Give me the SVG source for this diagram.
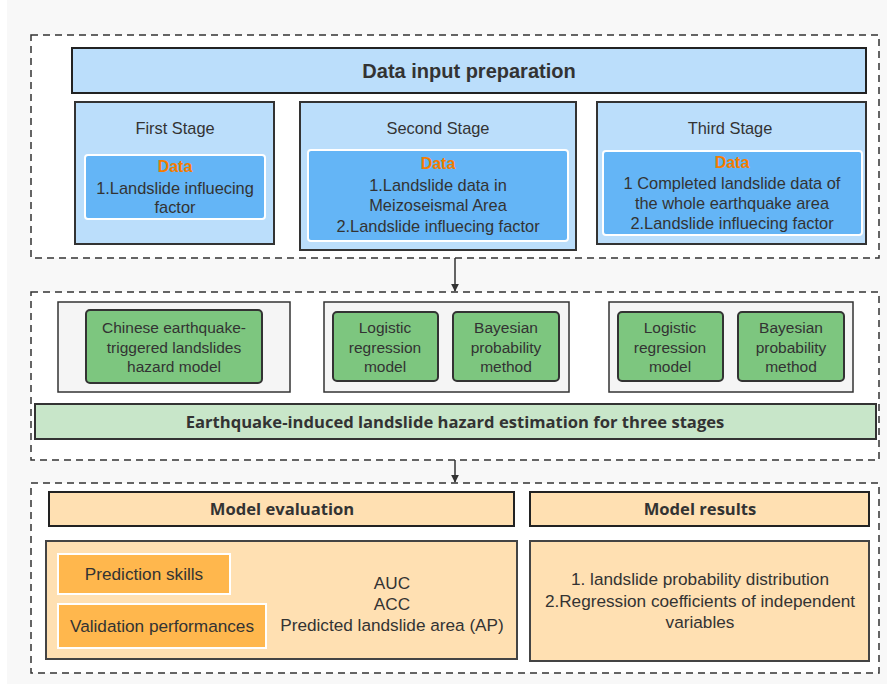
<svg xmlns="http://www.w3.org/2000/svg" width="887" height="688" viewBox="0 0 887 688">
<defs>
<style>
text{font-family:"Liberation Sans",Arial,sans-serif;fill:#333;text-anchor:middle}
.t15{font-size:15.5px}
.t16{font-size:16.4px}
.t17{font-size:17.2px}
.b{font-weight:bold}
.seg{font-family:"Open Sans","Noto Sans",sans-serif;font-weight:bold;font-size:16.6px}
.data{fill:#f57c00;font-weight:bold;font-size:16px}
.dash{fill:#fff;stroke:#333;stroke-width:1.5;stroke-dasharray:7 5}
.hdr{fill:#bbdefb;stroke:#222;stroke-width:2}
.stage{fill:#bbdefb;stroke:#333;stroke-width:2}
.dbox{fill:#64b5f6;stroke:#fff;stroke-width:2}
.gray{fill:#f5f5f5;stroke:#333;stroke-width:1.5}
.green{fill:#7dc67f;stroke:#333;stroke-width:2}
.banner{fill:#c8e6c9;stroke:#333;stroke-width:2}
.ohdr{fill:#ffe0b2;stroke:#222;stroke-width:2}
.obody{fill:#ffe0b2;stroke:#444;stroke-width:2}
.obox{fill:#ffb74d;stroke:#fff;stroke-width:2}
.conn{stroke:#333;stroke-width:1.5;fill:none}
</style>
<marker id="arr" viewBox="0 0 10 10" refX="9" refY="5" markerWidth="8" markerHeight="8" orient="auto" markerUnits="userSpaceOnUse">
<path d="M0,0 L10,5 L0,10 z" fill="#333"/>
</marker>
</defs>
<rect x="0" y="0" width="887" height="688" fill="#fff"/>
<rect x="7" y="0" width="880" height="684" fill="#f8f8f8"/>

<g id="container1">
<rect class="dash" x="31" y="35" width="848" height="223"/>
</g>
<g id="header1">
<rect class="hdr" x="72" y="48" width="794" height="45"/>
<text class="b" x="469" y="78" style="font-size:20px">Data input preparation</text>
</g>
<g id="stage1">
<rect class="stage" x="75" y="102" width="199" height="142"/>
<text class="t16" x="175" y="134">First Stage</text>
<rect class="dbox" x="85" y="155" width="180" height="64" rx="3"/>
<text class="data" x="175" y="172">Data</text>
<text class="t16" x="175" y="194">1.Landslide influecing</text>
<text class="t16" x="175" y="213">factor</text>
</g>
<g id="stage2">
<rect class="stage" x="300" y="102" width="276" height="148"/>
<text class="t16" x="438" y="134">Second Stage</text>
<rect class="dbox" x="308" y="150" width="260" height="91" rx="3"/>
<text class="data" x="438" y="169">Data</text>
<text class="t16" x="438" y="191">1.Landslide data in</text>
<text class="t16" x="438" y="211">Meizoseismal Area</text>
<text class="t16" x="438" y="232">2.Landslide influecing factor</text>
</g>
<g id="stage3">
<rect class="stage" x="597" y="102" width="269" height="142"/>
<text class="t16" x="730" y="134">Third Stage</text>
<rect class="dbox" x="603" y="151" width="259" height="84" rx="3"/>
<text class="data" x="732" y="168">Data</text>
<text class="t16" x="732" y="189">1 Completed landslide data of</text>
<text class="t16" x="732" y="209">the whole earthquake area</text>
<text class="t16" x="732" y="229">2.Landslide influecing factor</text>
</g>

<g id="container2">
<rect class="dash" x="31" y="292" width="848" height="168"/>
</g>
<g id="group1">
<rect class="gray" x="58" y="302" width="232" height="90"/>
<rect class="green" x="86" y="310" width="176" height="73" rx="4"/>
<text class="t15" x="174" y="333">Chinese earthquake-</text>
<text class="t15" x="174" y="353">triggered landslides</text>
<text class="t15" x="174" y="372">hazard model</text>
</g>
<g id="group2">
<rect class="gray" x="324" y="302" width="245" height="90"/>
<rect class="green" x="333" y="312" width="105" height="69" rx="4"/>
<text class="t15" x="385" y="333">Logistic</text>
<text class="t15" x="385" y="353">regression</text>
<text class="t15" x="385" y="372">model</text>
<rect class="green" x="453" y="312" width="106" height="69" rx="4"/>
<text class="t15" x="506" y="333">Bayesian</text>
<text class="t15" x="506" y="353">probability</text>
<text class="t15" x="506" y="372">method</text>
</g>
<g id="group3">
<rect class="gray" x="609" y="302" width="244" height="90"/>
<rect class="green" x="618" y="312" width="105" height="69" rx="4"/>
<text class="t15" x="670" y="333">Logistic</text>
<text class="t15" x="670" y="353">regression</text>
<text class="t15" x="670" y="372">model</text>
<rect class="green" x="738" y="312" width="106" height="69" rx="4"/>
<text class="t15" x="791" y="333">Bayesian</text>
<text class="t15" x="791" y="353">probability</text>
<text class="t15" x="791" y="372">method</text>
</g>
<g id="banner">
<rect class="banner" x="35" y="404" width="841" height="35"/>
<text class="seg" x="455" y="428">Earthquake-induced landslide hazard estimation for three stages</text>
</g>

<g id="container3">
<rect class="dash" x="31" y="483" width="848" height="190"/>
</g>
<g id="evalHeader">
<rect class="ohdr" x="49" y="492" width="465" height="34"/>
<text class="seg" x="282" y="515">Model evaluation</text>
</g>
<g id="resultsHeader">
<rect class="ohdr" x="530" y="492" width="339" height="34"/>
<text class="seg" x="700" y="515">Model results</text>
</g>
<g id="evalBody">
<rect class="obody" x="46" y="541" width="471" height="118"/>
<rect class="obox" x="58" y="554" width="172" height="40"/>
<text class="t17" x="144" y="580">Prediction skills</text>
<rect class="obox" x="58" y="604" width="208" height="44"/>
<text class="t17" x="162" y="632">Validation performances</text>
<text class="t17" x="392" y="589">AUC</text>
<text class="t17" x="392" y="610">ACC</text>
<text class="t17" x="392" y="631">Predicted landslide area (AP)</text>
</g>
<g id="resultsBody">
<rect class="obody" x="530" y="541" width="339" height="120"/>
<text class="t17" x="700" y="585">1. landslide probability distribution</text>
<text class="t17" x="700" y="607">2.Regression coefficients of independent</text>
<text class="t17" x="700" y="628">variables</text>
</g>

<g id="connectors">
<line class="conn" x1="455" y1="258" x2="455" y2="291" marker-end="url(#arr)"/>
<line class="conn" x1="455" y1="460" x2="455" y2="482" marker-end="url(#arr)"/>
</g>
</svg>
